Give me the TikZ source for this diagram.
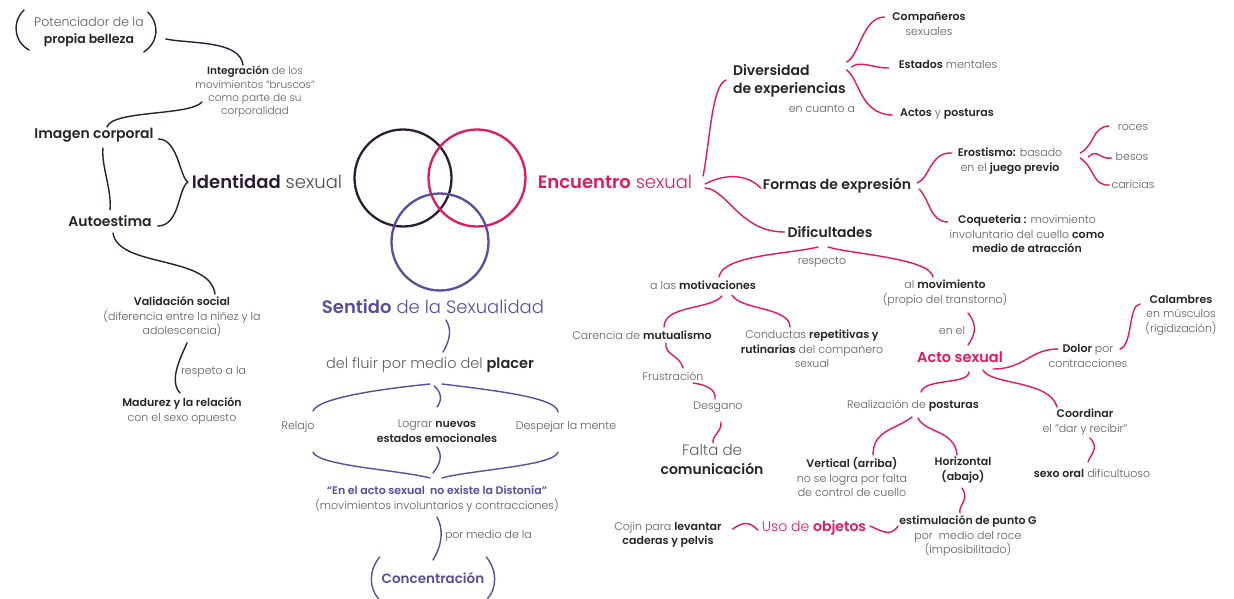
\documentclass[tikz,border=0pt]{standalone}
\usepackage{fontspec}
\setmainfont{Poppins Light}[BoldFont=Poppins SemiBold]
\usetikzlibrary{calc}
\definecolor{dpur}{HTML}{2B1D36}
\definecolor{pnk}{HTML}{E3185F}
\definecolor{vio}{HTML}{5A4CA0}
\definecolor{gry}{HTML}{5E5E5E}
\definecolor{dgr}{HTML}{4A4A4A}
\definecolor{blk}{HTML}{262626}
\newcommand{\bk}[1]{\textcolor{blk}{\bfseries #1}}
\begin{document}
\begin{tikzpicture}[x=1pt,y=-1pt,
  every node/.style={inner sep=0pt, outer sep=0pt, align=center, text=gry},
  fx/.style={font=\fontsize{10.5}{13.3}\selectfont},
  fs/.style={font=\fontsize{11}{14.5}\selectfont},
  fm/.style={font=\fontsize{14}{18}\selectfont\bfseries, text=blk},
  ft/.style={font=\fontsize{18}{22}\selectfont},
  cd/.style={draw=dpur, line width=1.4pt, line cap=round},
  cpk/.style={draw=pnk, line width=1.4pt, line cap=round},
  cvi/.style={draw=vio, line width=1.4pt, line cap=round},
  ring/.style={circle, line width=2.3pt, minimum size=97pt},
]
\useasboundingbox (0,0) rectangle (1234,599);
\fill[white] (0,0) rectangle (1234,599);

% ---------------- left (identity) ----------------
\node[font=\fontsize{12.5}{17}\selectfont] (pot) at (89,32) {Potenciador de la\\\bk{propia belleza}};
\node[fx] (integ) at (255,92) {\bk{Integración} de los\\movimientos "bruscos"\\como parte de su\\corporalidad};
\node[fm] (img) at (94,135) {Imagen corporal};
\node[ft, text=dgr] (ide) at (267,182) {\textcolor{dpur}{\bfseries Identidad} sexual};
\node[fm] (aut) at (110,221) {Autoestima};
\node[fs] (val) at (182,317) {\bk{Validación social}\\(diferencia entre la niñez y la\\adolescencia)};
\node[fs, anchor=west] (resp) at (181,372) {respeto a la};
\node[fs] (mad) at (182,411) {\bk{Madurez y la relación}\\con el sexo opuesto};

% parentheses around pot
\draw[cd] ($(pot.west)+(-10,-22)$) .. controls ($(pot.west)+(-22,-12)$) and ($(pot.west)+(-21,10)$) .. ($(pot.west)+(-5,18)$);
\draw[cd] ($(pot.east)+(4,-20)$) .. controls ($(pot.east)+(16,-8)$) and ($(pot.east)+(15,10)$) .. ($(pot.east)+(0,20)$);

\draw[cd] ($(pot.east)+(22,7)$) .. controls (190,44) and (240,40) .. ($(integ)+(-12,-27)$);
\draw[cd] ($(integ)+(-53,10)$) .. controls (190,116) and (112,110) .. ($(img)+(13,-8)$);
\draw[cd] ($(img.east)+(5,4)$) .. controls (178,139) and (180,178) .. ($(ide.west)+(-4,0)$);
\draw[cd] ($(aut.east)+(6,5)$) .. controls (180,226) and (178,188) .. ($(ide.west)+(-4,0)$);
\draw[cd] ($(img)+(9,13)$) .. controls (101,165) and (112,190) .. ($(aut)+(0,-11)$);
\draw[cd] ($(aut)+(3,12)$) .. controls (118,268) and (210,255) .. ($(val)+(33,-23)$);
\draw[cd] ($(val)+(5,26)$) .. controls (182,355) and (168,380) .. ($(mad)+(-2,-18)$);

% ---------------- circles ----------------
\node[ring, draw=dpur] (c1) at (403,178) {};
\node[ring, draw=pnk] (c2) at (477,178) {};
\node[ring, draw=vio] (c3) at (440,242) {};

% ---------------- sentido ----------------
\node[ft, text=vio] (sen) at (433,307) {\textbf{Sentido} de la Sexualidad};
\node[font=\fontsize{14.5}{18}\selectfont] (flu) at (430,365) {del fluir por medio del \bk{placer}};
\node[fs] (rel) at (298,427) {Relajo};
\node[fs] (log) at (437,431) {Lograr \bk{nuevos}\\\bk{estados emocionales}};
\node[fs] (des) at (566,427) {Despejar la mente};
\node[fs] (dis) at (437,499) {\textcolor{vio}{\bfseries “En el acto sexual\ \ no existe la Distonía”}\\(movimientos involuntarios y contracciones)};
\node[fs, anchor=west] (pml) at (445,536) {por medio de la};
\node[font=\fontsize{13.5}{16}\selectfont\bfseries, text=vio] (con) at (433,578) {Concentración};

\draw[cvi] ($(sen)+(13,13)$) .. controls (452,330) and (450,340) .. ($(flu)+(13,-13)$);
\draw[cvi] ($(flu)+(0,19)$) .. controls (380,389) and (318,398) .. ($(rel)+(15,-16)$);
\draw[cvi] ($(flu)+(12,19)$) .. controls (500,391) and (557,398) .. ($(des)+(-8,-15)$);
\draw[cvi] ($(flu)+(4,21)$) .. controls (442,392) and (442,401) .. ($(log)+(0,-24)$);
\draw[cvi] ($(rel)+(15,25)$) .. controls (318,466) and (400,470) .. ($(dis)+(-7,-21)$);
\draw[cvi] ($(des)+(-8,25)$) .. controls (555,466) and (470,470) .. ($(dis)+(5,-21)$);
\draw[cvi] ($(log)+(0,16)$) .. controls (443,456) and (440,464) .. ($(dis)+(-4,-26)$);
\draw[cvi] ($(dis)+(0,18)$) .. controls (444,530) and (442,545) .. ($(con)+(0,-18)$);
\draw[cvi] ($(con.west)+(-2,-21)$) .. controls ($(con.west)+(-13,-8)$) and ($(con.west)+(-13,10)$) .. ($(con.west)+(-3,21)$);
\draw[cvi] ($(con.east)+(2,-21)$) .. controls ($(con.east)+(13,-8)$) and ($(con.east)+(13,10)$) .. ($(con.east)+(3,21)$);

% ---------------- encuentro ----------------
\node[ft, text=pnk] (enc) at (615,182) {\textbf{Encuentro} sexual};
\node[fm, anchor=west, align=left] (div) at (733,81) {Diversidad\\de experiencias};
\node[fs] (ecu) at (822,109) {en cuanto a};
\node[fs] (com) at (929,24) {\bk{Compañeros}\\sexuales};
\node[fs] (est) at (948,64) {\bk{Estados} mentales};
\node[fs] (act) at (947,114) {\bk{Actos} y \bk{posturas}};
\node[fm] (for) at (837,186) {Formas de expresión};
\node[fs] (ero) at (1010,161) {\bk{Erostismo:} basado\\en el \bk{juego previo}};
\node[fs] (roc) at (1133,127) {roces};
\node[fs] (bes) at (1132,156) {besos};
\node[fs] (car) at (1133,184) {caricias};
\node[fs] (coq) at (1027,234) {\bk{Coqueteria :} movimiento\\involuntario del cuello \bk{como}\\\bk{medio de atracción}};
\node[fm] (dif) at (830,232) {Dificultades};
\node[fs] (rpt) at (822,262) {respecto};
\node[fs] (mot) at (703,285) {a las \bk{motivaciones}};
\node[fs] (mov) at (945,293) {al \bk{movimiento}\\(propio del transtorno)};
\node[fs] (car2) at (642,335) {Carencia de \bk{mutualismo}};
\node[fs] (cdt) at (812,349) {Conductas \bk{repetitivas y}\\\bk{rutinarias} del compañero\\sexual};
\node[fs] (fru) at (673,376) {Frustración};
\node[fs] (dsg) at (718,407) {Desgano};
\node[font=\fontsize{15}{19}\selectfont] (fal) at (712,460) {Falta de\\{\fontsize{14}{19}\selectfont\bk{comunicación}}};
\node[fs] (enl) at (952,330) {en el};
\node[font=\fontsize{14.5}{18}\selectfont\bfseries, text=pnk] (acs) at (960,357) {Acto sexual};
\node[fs] (dol) at (1088,356) {\bk{Dolor} por\\contracciones};
\node[fs] (cal) at (1181,315) {\bk{Calambres}\\en músculos\\(rigidización)};
\node[fs] (rea) at (913,406) {Realización de \bk{posturas}};
\node[fs] (coo) at (1085,422) {\bk{Coordinar}\\el "dar y recibir"};
\node[fs] (sxo) at (1092,473) {\bk{sexo oral} dificultuoso};
\node[fs] (ver) at (852,477) {\bk{Vertical (arriba)}\\no se logra por falta\\de control de cuello};
\node[fs] (hor) at (963,470) {\bk{Horizontal}\\\bk{(abajo)}};
\node[fs] (gst) at (968,536) {\bk{estimulación de punto G}\\por\ \ medio del roce\\(imposibilitado)};
\node[font=\fontsize{14}{18}\selectfont, text=pnk] (uso) at (814,528) {Uso de \textbf{objetos}};
\node[fs] (coj) at (668,535) {Cojin para \bk{levantar}\\\bk{caderas y pelvis}};

\draw[cpk] ($(enc.east)+(11,-6)$) .. controls (710,140) and (712,85) .. ($(div.west)+(-7,-1)$);
\draw[cpk] ($(enc.east)+(13,2)$) .. controls (722,175) and (745,172) .. ($(for.west)+(-2,2)$);
\draw[cpk] ($(enc.east)+(13,6)$) .. controls (728,190) and (740,232) .. ($(dif.west)+(-3,0)$);
\draw[cpk] ($(div.east)+(1,-19)$) .. controls (860,55) and (862,18) .. ($(com.west)+(-8,-7)$);
\draw[cpk] ($(div.east)+(6,-14)$) .. controls (860,60) and (872,68) .. ($(est.west)+(-10,4)$);
\draw[cpk] ($(div.east)+(1,-11)$) .. controls (860,80) and (860,114) .. ($(act.west)+(-8,1)$);
\draw[cpk] ($(for.east)+(6,-3)$) .. controls (930,178) and (930,152) .. ($(ero.west)+(-6,-8)$);
\draw[cpk] ($(for.east)+(8,3)$) .. controls (930,200) and (930,222) .. ($(coq.west)+(-2,-12)$);
\draw[cpk] ($(ero.east)+(18,-8)$) .. controls (1095,145) and (1092,127) .. ($(roc.west)+(-9,-1)$);
\draw[cpk] ($(ero.east)+(26,-4)$) .. controls (1097,148) and (1100,160) .. ($(bes.west)+(-4,2)$);
\draw[cpk] ($(ero.east)+(18,-3)$) .. controls (1095,168) and (1092,186) .. ($(car.west)+(-2,1)$);
\draw[cpk] ($(dif)+(-12,15)$) .. controls (790,254) and (722,255) .. ($(mot)+(16,-8)$);
\draw[cpk] ($(dif)+(-2,15)$) .. controls (850,254) and (930,258) .. ($(mov)+(-12,-16)$);
\draw[cpk] ($(mot)+(19,11)$) .. controls (710,310) and (664,305) .. ($(car2)+(22,-8)$);
\draw[cpk] ($(mot)+(29,10)$) .. controls (740,310) and (790,307) .. ($(cdt)+(-22,-22)$);
\draw[cpk] ($(car2)+(24,8)$) .. controls (664,355) and (680,355) .. ($(fru)+(10,-8)$);
\draw[cpk] ($(fru)+(20,7)$) .. controls (708,385) and (716,390) .. ($(dsg)+(-3,-8)$);
\draw[cpk] ($(dsg)+(3,15)$) .. controls (722,432) and (712,435) .. ($(fal)+(1,-17)$);
\draw[cpk] ($(mov)+(23,20)$) .. controls (978,325) and (975,335) .. ($(acs)+(8,-12)$);
\draw[cpk] ($(acs)+(33,12)$) .. controls (1025,369) and (1030,349) .. ($(dol)+(-30,-7)$);
\draw[cpk] ($(dol)+(32,-7)$) .. controls (1133,345) and (1128,305) .. ($(cal)+(-41,-11)$);
\draw[cpk] ($(acs)+(9,15)$) .. controls (968,385) and (925,378) .. ($(rea)+(8,-14)$);
\draw[cpk] ($(acs)+(23,13)$) .. controls (990,385) and (1050,380) .. ($(coo)+(-28,-15)$);
\draw[cpk] ($(coo)+(5,16)$) .. controls (1100,448) and (1090,455) .. ($(sxo)+(-4,-11)$);
\draw[cpk] ($(rea)+(-1,11)$) .. controls (895,430) and (873,430) .. ($(ver)+(21,-22)$);
\draw[cpk] ($(rea)+(5,12)$) .. controls (925,433) and (955,430) .. ($(hor)+(-6,-15)$);
\draw[cpk] ($(hor)+(-1,18)$) .. controls (970,500) and (958,505) .. ($(gst)+(-8,-23)$);
\draw[cpk] ($(gst)+(-70,-10)$) .. controls (890,538) and (880,530) .. ($(uso.east)+(4,-2)$);
\draw[cpk] ($(uso.west)+(-4,2)$) .. controls (748,520) and (742,523) .. ($(coj.east)+(11,-6)$);
\end{tikzpicture}
\end{document}
